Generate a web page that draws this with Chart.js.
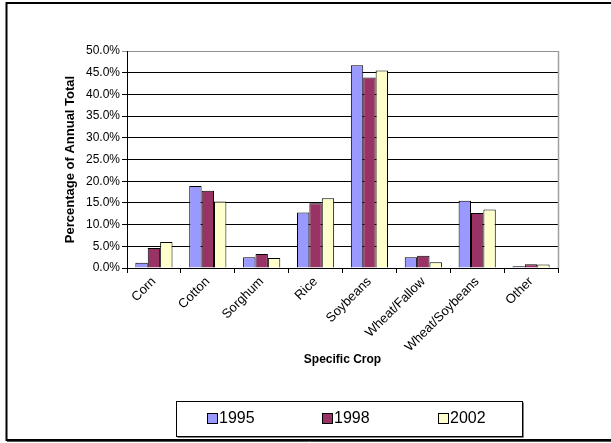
<!DOCTYPE html>
<html>
<head>
<meta charset="utf-8">
<script src="https://cdn.jsdelivr.net/npm/chart.js@4/dist/chart.umd.min.js"></script>
<style>
html,body{margin:0;padding:0;background:#fff;}
#wrap{width:611px;height:443px;position:relative;}
</style>
</head>
<body>
<div id="wrap"><canvas id="c" width="611" height="443"></canvas></div>
<script>
const categories = ["Corn","Cotton","Sorghum","Rice","Soybeans","Wheat/Fallow","Wheat/Soybeans","Other"];
const seriesNames = ["1995","1998","2002"];
const values1995 = [1.2, 18.9, 2.5, 12.8, 46.7, 2.5, 15.5, 0.4];
const values1998 = [4.6, 17.8, 3.2, 14.9, 43.9, 2.8, 12.7, 0.85];
const values2002 = [6.0, 15.3, 2.3, 16.1, 45.5, 1.3, 13.5, 0.8];
const yTickValues = [0,5,10,15,20,25,30,35,40,45,50];
const colors = ["#9999FF","#993366","#FFFFCC"];

const FONT = "Arial, 'Liberation Sans', sans-serif";

const framePlugin = {
  id: 'frame',
  beforeDraw(chart){
    const ctx = chart.ctx;
    ctx.save();
    ctx.fillStyle = '#fff';
    ctx.fillRect(0,0,chart.width,chart.height);
    ctx.restore();
  },
  afterDraw(chart){
    const ctx = chart.ctx;
    const a = chart.chartArea;
    ctx.save();
    // plot area right border (gray)
    ctx.strokeStyle = '#a0a0a0';
    ctx.lineWidth = 1.5;
    ctx.beginPath();
    ctx.moveTo(Math.round(a.right)+0.5, a.top);
    ctx.lineTo(Math.round(a.right)+0.5, a.bottom);
    ctx.stroke();
    // outer frame
    ctx.strokeStyle = '#000';
    ctx.lineWidth = 2;
    ctx.beginPath();
    ctx.moveTo(615, 3);
    ctx.lineTo(6.5, 3);
    ctx.lineTo(6.5, 440);
    ctx.lineTo(615, 440);
    ctx.stroke();
    ctx.strokeStyle = '#555';
    ctx.lineWidth = 1;
    ctx.beginPath();
    ctx.moveTo(7, 441.5);
    ctx.lineTo(615, 441.5);
    ctx.stroke();
    // legend
    const lx = 176.5, ly = 401.5, lw = 346, lh = 35;
    ctx.strokeStyle = '#000';
    ctx.lineWidth = 1;
    ctx.strokeRect(lx, ly, lw, lh);
    ctx.strokeStyle = '#808080';
    ctx.beginPath();
    ctx.moveTo(lx+1, ly+lh+1);
    ctx.lineTo(lx+lw+1, ly+lh+1);
    ctx.lineTo(lx+lw+1, ly+1);
    ctx.stroke();
    const itemX = [207, 322, 438];
    ctx.font = "16px " + FONT;
    ctx.textBaseline = 'middle';
    ctx.fillStyle = '#000';
    chart.data.datasets.forEach((ds, i) => {
      const x = itemX[i];
      ctx.fillStyle = ds.backgroundColor;
      ctx.fillRect(x+0.5, 413.5, 10, 10);
      ctx.strokeStyle = '#000';
      ctx.strokeRect(x+0.5, 413.5, 10, 10);
      ctx.fillStyle = '#000';
      ctx.fillText(ds.label, x + 12, 419);
    });
    ctx.restore();
  }
};

new Chart(document.getElementById('c'), {
  type: 'bar',
  data: {
    labels: categories,
    datasets: [
      {label: seriesNames[0], data: values1995, backgroundColor: colors[0], borderColor: '#000', borderWidth: 1},
      {label: seriesNames[1], data: values1998, backgroundColor: colors[1], borderColor: '#000', borderWidth: 1},
      {label: seriesNames[2], data: values2002, backgroundColor: colors[2], borderColor: '#000', borderWidth: 1}
    ]
  },
  options: {
    responsive: false,
    animation: false,
    devicePixelRatio: 1,
    datasets: { bar: { categoryPercentage: 0.69, barPercentage: 1.0 } },
    layout: { padding: { top: 51, right: 53, left: 59, bottom: 73 } },
    plugins: {
      legend: { display: false },
      tooltip: { enabled: false }
    },
    scales: {
      x: {
        afterFit(scale){ scale.height = 102; },
        grid: { offset: true, drawOnChartArea: false, drawTicks: true, tickLength: 5, color: '#000', lineWidth: 1 },
        border: { color: '#000', width: 1 },
        ticks: { color: '#000', font: { family: FONT, size: 13 }, minRotation: 45, maxRotation: 45, padding: 1, autoSkip: false },
        title: { display: true, text: 'Specific Crop', color: '#000', font: { family: FONT, size: 12, weight: 'bold' }, padding: { top: 2, bottom: 3 } }
      },
      y: {
        min: 0, max: 50,
        afterFit(scale){ scale.width = 68; },
        afterBuildTicks(scale){ scale.ticks = yTickValues.map(v => ({ value: v })); },
        grid: {
          color: (c) => (c.tick && c.tick.value === 50) ? '#909090' : '#000',
          lineWidth: 1, drawTicks: true, tickLength: 5
        },
        border: { color: '#000', width: 1 },
        ticks: {
          color: '#000', font: { family: FONT, size: 12 }, padding: 2,
          callback: (v) => Number(v).toFixed(1) + '%'
        },
        title: { display: true, text: 'Percentage of Annual Total', color: '#000', font: { family: FONT, size: 13, weight: 'bold' }, padding: { top: 4, bottom: 4 } }
      }
    }
  },
  plugins: [framePlugin]
});
</script>
</body>
</html>
